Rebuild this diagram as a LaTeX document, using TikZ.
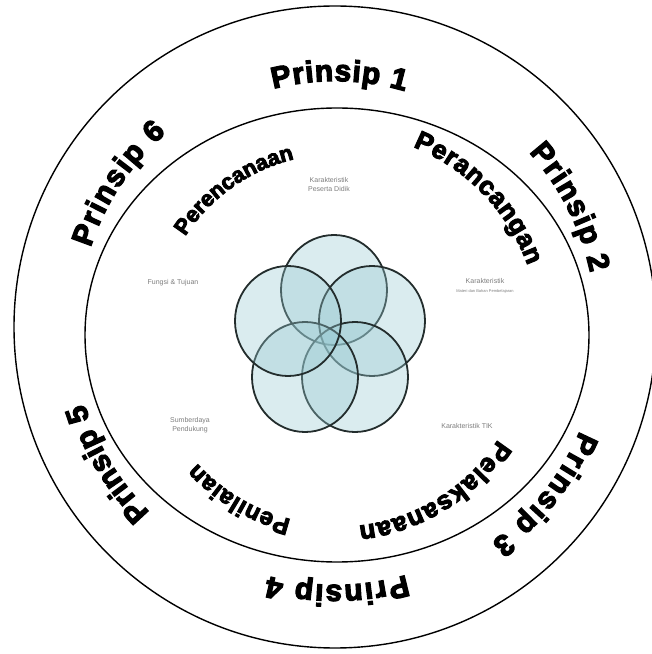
\documentclass[tikz,border=0pt]{standalone}
\usepackage{fontspec}
\setmainfont{Liberation Sans}
\newfontfamily\ringfont[FakeBold=4]{Liberation Sans Bold}
\usetikzlibrary{decorations.text}
\definecolor{venncyan}{RGB}{150,200,208}
\definecolor{vennline}{RGB}{35,45,45}
\definecolor{labelgray}{RGB}{125,125,125}
\tikzset{
    ring/.style={draw, line width=1.4pt},
    petal/.style={draw=vennline, line width=1.8pt, fill=venncyan, fill opacity=0.35},
    ringtext/.style={decorate, decoration={text along path, text align={fit to path}}},
    smalllabel/.style={text=labelgray, font=\fontsize{7}{9}\selectfont, align=center}
}
\newcommand{\prinsipfont}{\ringfont\fontsize{30}{32}\selectfont}
\newcommand{\tahapfont}[1]{\ringfont\fontsize{#1}{#1}\selectfont}

\begin{document}
\begin{tikzpicture}[x=1pt, y=1pt]
        \useasboundingbox (0,0) rectangle (652,654);
        \coordinate (O) at (335,327);
        \coordinate (Oin) at (337,319);

        % two rings
        \draw[ring] (O) circle [radius=321];
        \draw[ring] (Oin) ellipse [x radius=252, y radius=227];

        % five petals
        \coordinate (ptop) at (334,364);
        \coordinate (pright) at (372,333);
        \coordinate (pbright) at (355,277);
        \coordinate (pbleft) at (305,277);
        \coordinate (pleft) at (288,333);
        \foreach \p in {ptop,pright,pbright,pbleft,pleft}
            \draw[petal] (\p) ellipse [x radius=53, y radius=55];

        % labels round the petals
        \node[smalllabel] (peserta) at (329,469) {Karakteristik\\Peserta Didik};
        \node[smalllabel] (fungsi) at (173,371) {Fungsi \& Tujuan};
        \node[smalllabel] (materi) at (485,368)
            {Karakteristik\\{\fontsize{4}{6}\selectfont Materi dan Bahan Pembelajaran}};
        \node[smalllabel] (sumber) at (190,229) {Sumberdaya\\Pendukung};
        \node[smalllabel] (tik) at (467,228) {Karakteristik TIK};

        % Prinsip 1-6 on the outer band
        \path[ringtext, decoration={text={|\prinsipfont|Prinsip 1}}]
            (O) ++(104.5:246) arc [start angle=104.5, end angle=73.5, radius=246];
        \path[ringtext, decoration={text={|\prinsipfont|Prinsip 2}}]
            (O) ++(42:261) arc [start angle=42, end angle=12, radius=261];
        \path[ringtext, decoration={text={|\prinsipfont|Prinsip 3}}]
            (O) ++(-23:266) arc [start angle=-23, end angle=-54, radius=266];
        \path[ringtext, decoration={text={|\prinsipfont|Prinsip 4}}]
            (O) ++(-74:258) arc [start angle=-74, end angle=-105, radius=258];
        \path[ringtext, decoration={text={|\prinsipfont|Prinsip 5}}]
            (O) ++(225:262) arc [start angle=225, end angle=197, radius=262];
        \path[ringtext, decoration={text={|\prinsipfont|Prinsip 6}}]
            (O) ++(162:257) arc [start angle=162, end angle=131, radius=257];

        % stages inside the inner ring
        \path[ringtext, decoration={text={|\tahapfont{22}|Perencanaan}}]
            (Oin) ++(147:181) arc [start angle=147, end angle=104, radius=181];
        \path[ringtext, decoration={text={|\tahapfont{26}|Perancangan}}]
            (Oin) ++(68:203) arc [start angle=68, end angle=20, radius=203];
        \path[ringtext, decoration={text={|\tahapfont{26}|Pelaksanaan}}]
            (Oin) ++(-33:192) arc [start angle=-33, end angle=-83.5, radius=192];
        \path[ringtext, decoration={text={|\tahapfont{24}|Penilaian}}]
            (Oin) ++(256:190) arc [start angle=256, end angle=222.5, radius=190];
\end{tikzpicture}
\end{document}
